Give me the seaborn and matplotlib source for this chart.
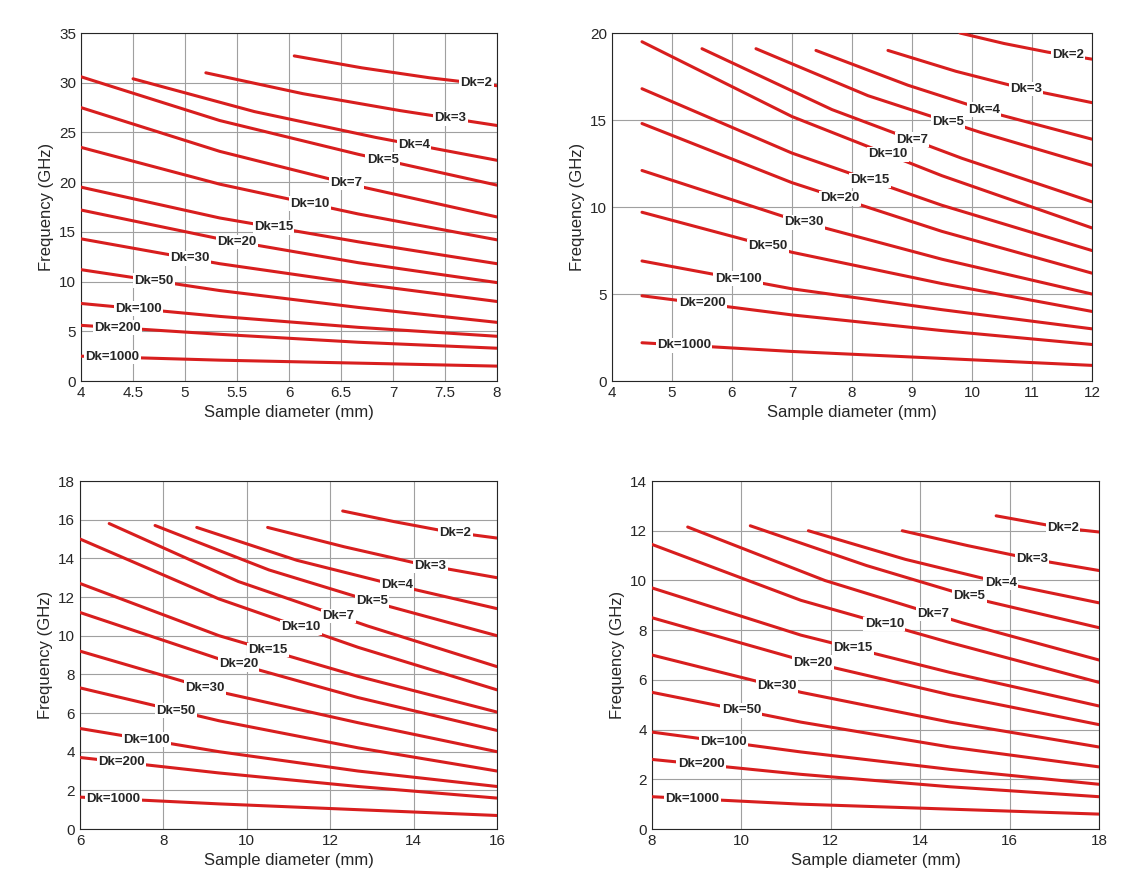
import matplotlib
matplotlib.use("Agg")
import matplotlib.pyplot as plt
import seaborn as sns
import numpy as np
import pandas as pd

sns.set_style("white")
plt.rcParams['font.family'] = ['Liberation Sans', 'DejaVu Sans']

dk_labels = ["Dk=2", "Dk=3", "Dk=4", "Dk=5", "Dk=7", "Dk=10", "Dk=15", "Dk=20",
             "Dk=30", "Dk=50", "Dk=100", "Dk=200", "Dk=1000"]

# Panel 1: start x, freq at 4 evenly spaced points to x_end
p1_xend = 8
p1_xstart = [6.05, 5.2, 4.5, 4, 4, 4, 4, 4, 4, 4, 4, 4, 4]
p1_f = [[32.7, 31.5, 30.5, 29.7], [31.0, 28.9, 27.2, 25.7], [30.4, 27.1, 24.5, 22.2],
        [30.6, 26.2, 22.8, 19.7], [27.5, 23.1, 19.6, 16.5], [23.5, 19.8, 16.8, 14.2],
        [19.5, 16.4, 14.0, 11.8], [17.2, 14.3, 11.9, 9.9], [14.3, 11.8, 9.8, 8.0],
        [11.2, 9.1, 7.4, 5.9], [7.8, 6.5, 5.4, 4.5], [5.6, 4.7, 3.9, 3.3], [2.5, 2.1, 1.8, 1.5]]
p1_labx = [7.8, 7.55, 7.2, 6.9, 6.55, 6.2, 5.85, 5.5, 5.05, 4.7, 4.55, 4.35, 4.3]

p2_xend = 12
p2_xstart = [9.8, 8.6, 7.4, 6.4, 5.5, 4.5, 4.5, 4.5, 4.5, 4.5, 4.5, 4.5, 4.5]
p2_f = [[20.0, 19.4, 18.9, 18.5], [19.0, 17.8, 16.8, 16.0], [19.0, 17.0, 15.3, 13.9],
        [19.1, 16.4, 14.3, 12.4], [19.1, 15.6, 12.8, 10.3], [19.5, 15.2, 11.8, 8.8],
        [16.8, 13.1, 10.1, 7.5], [14.8, 11.4, 8.6, 6.2], [12.1, 9.3, 7.0, 5.0],
        [9.7, 7.4, 5.6, 4.0], [6.9, 5.3, 4.1, 3.0], [4.9, 3.8, 2.9, 2.1], [2.2, 1.7, 1.3, 0.9]]
p2_labx = [11.6, 10.9, 10.2, 9.6, 9.0, 8.6, 8.3, 7.8, 7.2, 6.6, 6.1, 5.5, 5.2]

p3_xend = 16
p3_xstart = [12.3, 10.5, 8.8, 7.8, 6.7, 6, 6, 6, 6, 6, 6, 6, 6]
p3_f = [[16.45, 15.9, 15.4, 15.05], [15.6, 14.6, 13.7, 13.0], [15.6, 13.9, 12.6, 11.4],
        [15.7, 13.4, 11.6, 10.0], [15.8, 12.8, 10.5, 8.4], [15.0, 11.9, 9.4, 7.2],
        [12.7, 10.0, 7.9, 6.05], [11.2, 8.8, 6.8, 5.1], [9.2, 7.1, 5.5, 4.0],
        [7.3, 5.6, 4.2, 3.0], [5.2, 4.0, 3.0, 2.2], [3.7, 2.9, 2.2, 1.6], [1.65, 1.3, 1.0, 0.7]]
p3_labx = [15.0, 14.4, 13.6, 13.0, 12.2, 11.3, 10.5, 9.8, 9.0, 8.3, 7.6, 7.0, 6.8]

p4_xend = 18
p4_xstart = [15.7, 13.6, 11.5, 10.2, 8.8, 8, 8, 8, 8, 8, 8, 8, 8]
p4_f = [[12.6, 12.35, 12.1, 11.95], [12.0, 11.4, 10.85, 10.4], [12.0, 10.85, 9.9, 9.1],
        [12.2, 10.6, 9.2, 8.1], [12.15, 10.0, 8.3, 6.8], [11.45, 9.2, 7.5, 5.9],
        [9.7, 7.8, 6.3, 4.95], [8.5, 6.8, 5.4, 4.2], [7.0, 5.5, 4.3, 3.3],
        [5.5, 4.3, 3.3, 2.5], [3.9, 3.1, 2.4, 1.8], [2.8, 2.2, 1.7, 1.3], [1.3, 1.0, 0.8, 0.6]]
p4_labx = [17.2, 16.5, 15.8, 15.1, 14.3, 13.2, 12.5, 11.6, 10.8, 10.0, 9.6, 9.1, 8.9]

panels = [
    dict(xs=p1_xstart, xe=p1_xend, f=p1_f, lab=p1_labx, xlim=(4, 8), ylim=(0, 35),
         xt=np.arange(4, 8.01, 0.5), yt=np.arange(0, 36, 5), pos=[0.0706, 0.5675, 0.3624, 0.395]),
    dict(xs=p2_xstart, xe=p2_xend, f=p2_f, lab=p2_labx, xlim=(4, 12), ylim=(0, 20),
         xt=np.arange(4, 13, 1), yt=np.arange(0, 21, 5), pos=[0.5331, 0.5675, 0.4181, 0.395]),
    dict(xs=p3_xstart, xe=p3_xend, f=p3_f, lab=p3_labx, xlim=(6, 16), ylim=(0, 18),
         xt=np.arange(6, 17, 2), yt=np.arange(0, 19, 2), pos=[0.0697, 0.059, 0.3632, 0.395]),
    dict(xs=p4_xstart, xe=p4_xend, f=p4_f, lab=p4_labx, xlim=(8, 18), ylim=(0, 14),
         xt=np.arange(8, 19, 2), yt=np.arange(0, 15, 2), pos=[0.5679, 0.059, 0.3894, 0.395]),
]

fig = plt.figure(figsize=(11.48, 8.81), dpi=100)
red = "#d81e1e"
for p in panels:
    ax = fig.add_axes(p["pos"])
    rows = []
    for lab, x0, fv in zip(dk_labels, p["xs"], p["f"]):
        xv = np.linspace(x0, p["xe"], len(fv))
        for x, y in zip(xv, fv):
            rows.append((lab, x, y))
    df = pd.DataFrame(rows, columns=["Dk", "x", "f"])
    sns.lineplot(data=df, x="x", y="f", hue="Dk", palette=[red] * len(dk_labels),
                 estimator=None, sort=False, legend=False, linewidth=2.2, ax=ax, zorder=3)
    for lab, x0, fv, lx in zip(dk_labels, p["xs"], p["f"], p["lab"]):
        xv = np.linspace(x0, p["xe"], len(fv))
        ly = np.interp(lx, xv, fv)
        ax.text(lx, ly, lab, fontsize=9.5, fontweight="bold", ha="center", va="center",
                zorder=5, bbox=dict(boxstyle="square,pad=0.1", fc="white", ec="none"))
    ax.set_xlim(*p["xlim"]); ax.set_ylim(*p["ylim"])
    ax.set_xticks(p["xt"]); ax.set_yticks(p["yt"])
    ax.set_xticklabels([f"{v:g}" for v in p["xt"]])
    ax.grid(True, color="#a0a0a0", linewidth=0.8)
    ax.set_axisbelow(True)
    ax.tick_params(direction="in", labelsize=11, length=4, color="#333333")
    for s in ax.spines.values():
        s.set_color("#262626"); s.set_linewidth(0.8)
    ax.set_xlabel("Sample diameter (mm)", fontsize=12)
    ax.set_ylabel("Frequency (GHz)", fontsize=12)

fig.savefig("out.png", dpi=100)
